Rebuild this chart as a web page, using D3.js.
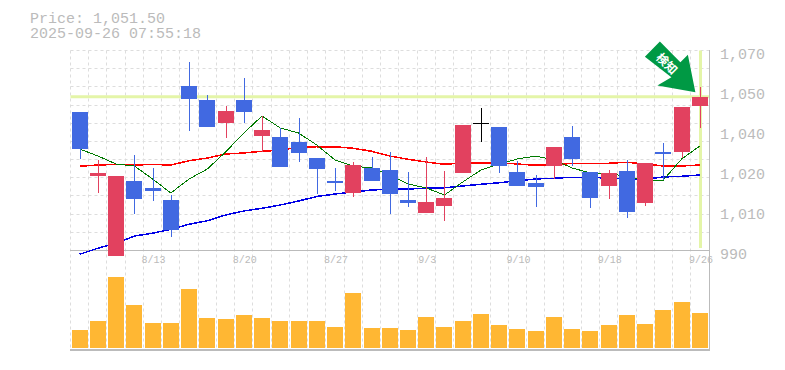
<!DOCTYPE html>
<html>
<head>
<meta charset="utf-8">
<script src="https://cdn.jsdelivr.net/npm/d3@7"></script>
<style>
  html, body { margin: 0; padding: 0; background: #fff; }
  svg { display: block; }
  text { font-family: "Liberation Mono", monospace; fill: #bbb; }
  .grid line { stroke: #ddd; stroke-dasharray: 3 3; }
  .axis path, .axis line { display: none; }
</style>
</head>
<body>
<div id="chart"></div>
<script>
var dates = ["8/6","8/7","8/8","8/12","8/13","8/14","8/15","8/18","8/19","8/20","8/21","8/22","8/25","8/26","8/27","8/28","8/29","9/1","9/2","9/3","9/4","9/5","9/8","9/9","9/10","9/11","9/12","9/16","9/17","9/18","9/19","9/22","9/24","9/25","9/26"];
var openPrice = [1045.4,1019.8,987.8,1017.8,1015.0,1010.2,1055.8,1050.2,1041.0,1050.2,1035.8,1035.4,1033.4,1027.0,1017.8,1013.0,1023.0,1022.2,1010.2,1005.0,1007.8,1021.0,1041.2,1039.4,1021.4,1017.0,1023.8,1035.4,1021.4,1015.8,1021.8,1009.0,1029.4,1029.4,1047.8];
var closePrice = [1030.6,1021.0,1019.8,1010.6,1013.8,998.2,1050.6,1039.4,1045.8,1045.4,1038.2,1023.4,1029.0,1022.6,1017.0,1024.2,1017.8,1012.6,1009.0,1009.4,1011.0,1040.2,1041.2,1023.8,1015.8,1015.4,1031.4,1026.6,1011.0,1021.0,1005.4,1025.0,1028.6,1047.4,1051.5];
var highPrice = [1045.4,1026.2,1019.8,1028.2,1023.0,1012.2,1065.4,1052.2,1047.8,1059.0,1043.8,1039.0,1043.0,1027.0,1023.0,1025.4,1027.4,1029.4,1021.4,1027.4,1021.8,1040.2,1047.0,1039.4,1025.8,1020.2,1031.4,1039.8,1021.4,1022.2,1026.2,1025.0,1033.0,1047.4,1055.4];
var lowPrice = [1026.6,1013.0,987.8,1004.6,1009.8,995.4,1037.8,1039.4,1035.0,1041.0,1029.4,1023.4,1025.4,1012.6,1013.8,1011.4,1017.8,1004.6,1007.4,1005.0,1001.8,1021.0,1033.4,1021.0,1015.8,1007.4,1018.6,1023.8,1007.0,1010.6,1003.0,1007.8,1018.2,1027.0,1039.0];
var ma5 = [1030.6,1027.8,1024.6,1023.8,1018.6,1013.0,1018.6,1022.6,1029.4,1037.0,1043.8,1039.0,1037.0,1032.2,1026.2,1023.8,1023.0,1020.2,1016.6,1015.0,1012.2,1017.4,1022.2,1024.6,1026.6,1027.8,1026.2,1023.0,1021.0,1021.0,1019.4,1018.2,1018.2,1026.6,1031.8];
var ma25 = [1023.7,1024.2,1024.4,1024.2,1024.4,1024.2,1025.9,1027.0,1028.6,1029.0,1029.7,1030.1,1031.3,1031.5,1031.5,1030.9,1029.7,1027.8,1026.5,1025.4,1024.5,1025.0,1025.0,1025.1,1024.6,1024.1,1024.2,1024.9,1024.9,1024.9,1025.3,1024.6,1023.8,1023.8,1024.2];
var ma75 = [988.5,990.9,992.9,995.8,996.9,998.5,1000.5,1001.9,1004.2,1005.8,1006.9,1008.2,1009.8,1011.6,1012.6,1013.4,1014.2,1014.5,1014.6,1014.9,1015.1,1015.8,1016.5,1017.1,1017.9,1018.6,1018.9,1019.3,1019.3,1018.9,1018.6,1018.6,1019.4,1019.7,1020.2];
var volume = [18,27,71,43,25,25,59,30,29,33,30,27,27,27,21,55,20,20,18,31,21,27,34,23,19,17,31,19,17,23,33,24,38,46,35];
var priceTicks = [1070,1054,1038,1022,1006,990];
var dateTicks = ["8/13","8/20","8/27","9/3","9/10","9/18","9/26"];
var titleLines = ["Price: 1,051.50","2025-09-26 07:55:18"];

var width = 785, height = 370;
var plotLeft = 70.5, plotRight = 709, plotTop = 50.5, priceBottom = 250.5, volBottom = 348;

var svg = d3.select("#chart").append("svg")
  .attr("width", width)
  .attr("height", height);

var x = d3.scaleBand().domain(dates).range([plotLeft, plotRight]);
var y = d3.scaleLinear().domain([990, 1070]).range([priceBottom, plotTop]);
var yVol = d3.scaleLinear().domain([0, 100]).range([volBottom, volBottom - 100]);
var xc = function (d) { return x(d) + x.bandwidth() / 2; };

// title
svg.append("text")
  .attr("y", 23)
  .style("font-size", "15px")
  .selectAll("tspan").data(titleLines).enter().append("tspan")
  .attr("x", 30)
  .attr("dy", function (d, i) { return i ? 15 : 0; })
  .text(function (d) { return d; });

// grid
var hGrid = d3.range(12).map(function (i) { return Math.floor(plotTop + i * (priceBottom - plotTop) / 11) + 0.5; });
svg.append("g").attr("class", "grid")
  .selectAll("line").data(hGrid).enter().append("line")
  .attr("x1", plotLeft).attr("x2", plotRight)
  .attr("y1", function (d) { return d; }).attr("y2", function (d) { return d; });
svg.append("g").attr("class", "grid")
  .selectAll("line").data(dates).enter().append("line")
  .attr("x1", function (d) { return Math.floor(x(d)) + 0.5; })
  .attr("x2", function (d) { return Math.floor(x(d)) + 0.5; })
  .attr("y1", plotTop).attr("y2", 350);

// frame lines
svg.append("line").attr("x1", 70).attr("x2", 710).attr("y1", 250.5).attr("y2", 250.5).attr("stroke", "#bbb");
svg.append("line").attr("x1", 70).attr("x2", 710).attr("y1", 350).attr("y2", 350).attr("stroke", "#bbb").attr("stroke-width", 2);
svg.append("line").attr("x1", 709.5).attr("x2", 709.5).attr("y1", 50).attr("y2", 351).attr("stroke", "#bbb");

// current price / last day markers
var last = dates[dates.length - 1], lastClose = closePrice[closePrice.length - 1];
svg.append("line").attr("x1", plotLeft).attr("x2", plotRight)
  .attr("y1", y(lastClose)).attr("y2", y(lastClose))
  .attr("stroke", "#e4f5a8").attr("stroke-width", 3);
svg.append("line").attr("x1", Math.round(xc(last)) + 0.5).attr("x2", Math.round(xc(last)) + 0.5)
  .attr("y1", plotTop).attr("y2", 248)
  .attr("stroke", "#e4f5a8").attr("stroke-width", 3);

// moving averages
var line = d3.line()
  .x(function (d, i) { return xc(dates[i]); })
  .y(function (d) { return y(d); });
var maLines = svg.append("g").attr("fill", "none").attr("shape-rendering", "crispEdges");
maLines.append("path").datum(ma75).attr("d", line).attr("stroke", "#0000e6").attr("stroke-width", 1.5);
maLines.append("path").datum(ma25).attr("d", line).attr("stroke", "#f00").attr("stroke-width", 1.5);
maLines.append("path").datum(ma5).attr("d", line).attr("stroke", "#007a00").attr("stroke-width", 1);

// candles
var candleColor = function (i) {
  if (closePrice[i] === openPrice[i]) return "#000";
  return closePrice[i] > openPrice[i] ? "#e2415f" : "#4169e1";
};
var candles = svg.append("g").attr("shape-rendering", "crispEdges")
  .selectAll("g").data(dates).enter().append("g");
candles.append("line")
  .attr("x1", function (d) { return Math.round(xc(d)) + 0.5; })
  .attr("x2", function (d) { return Math.round(xc(d)) + 0.5; })
  .attr("y1", function (d, i) { return y(highPrice[i]); })
  .attr("y2", function (d, i) { return y(lowPrice[i]); })
  .attr("stroke", function (d, i) { return candleColor(i); });
candles.append("rect")
  .attr("x", function (d) { return Math.round(xc(d)) - 8; })
  .attr("width", 16)
  .attr("y", function (d, i) { return y(Math.max(openPrice[i], closePrice[i])); })
  .attr("height", function (d, i) { return Math.max(1, Math.abs(y(openPrice[i]) - y(closePrice[i]))); })
  .attr("fill", function (d, i) { return candleColor(i); });

// volume
svg.append("g").attr("shape-rendering", "crispEdges")
  .selectAll("rect").data(volume).enter().append("rect")
  .attr("x", function (d, i) { return Math.round(xc(dates[i])) - 8; })
  .attr("width", 16)
  .attr("y", function (d) { return yVol(d); })
  .attr("height", function (d) { return yVol(0) - yVol(d); })
  .attr("fill", "#ffb733");

// axes
var yAxis = d3.axisRight(y).tickValues(priceTicks)
  .tickFormat(function (d) { return d3.format(",")(Math.round(d / 10) * 10); });
svg.append("g").attr("class", "axis")
  .attr("transform", "translate(720,3)")
  .call(yAxis)
  .call(function (g) {
    g.selectAll("text").attr("x", 0).style("font-size", "15px");
  });

var xAxis = d3.axisBottom(x).tickValues(dateTicks);
svg.append("g").attr("class", "axis")
  .attr("transform", "translate(1,250)")
  .call(xAxis)
  .call(function (g) {
    g.selectAll("text").attr("y", 6).style("font-size", "10px");
  });

// signal arrow, anchored on the last candle
var arrow = svg.append("g")
  .attr("transform", "translate(" + (xc(last) - 4.5) + "," + (y(lastClose) - 4.5) + ")");
arrow.append("path")
  .attr("d", "M0,0L-38,-6.7L-24,-15L-50.5,-35.5L-35.5,-50.7L-15,-30L-7.5,-37.5Z")
  .attr("fill", "#009944");
arrow.append("text")
  .attr("transform", "translate(-28.5,-28.5) rotate(45)")
  .attr("text-anchor", "middle")
  .attr("dy", "0.36em")
  .style("font-family", "'Noto Sans CJK JP'")
  .style("font-weight", "700")
  .style("font-size", "12px")
  .style("fill", "#fff")
  .text("検知");
</script>
</body>
</html>
